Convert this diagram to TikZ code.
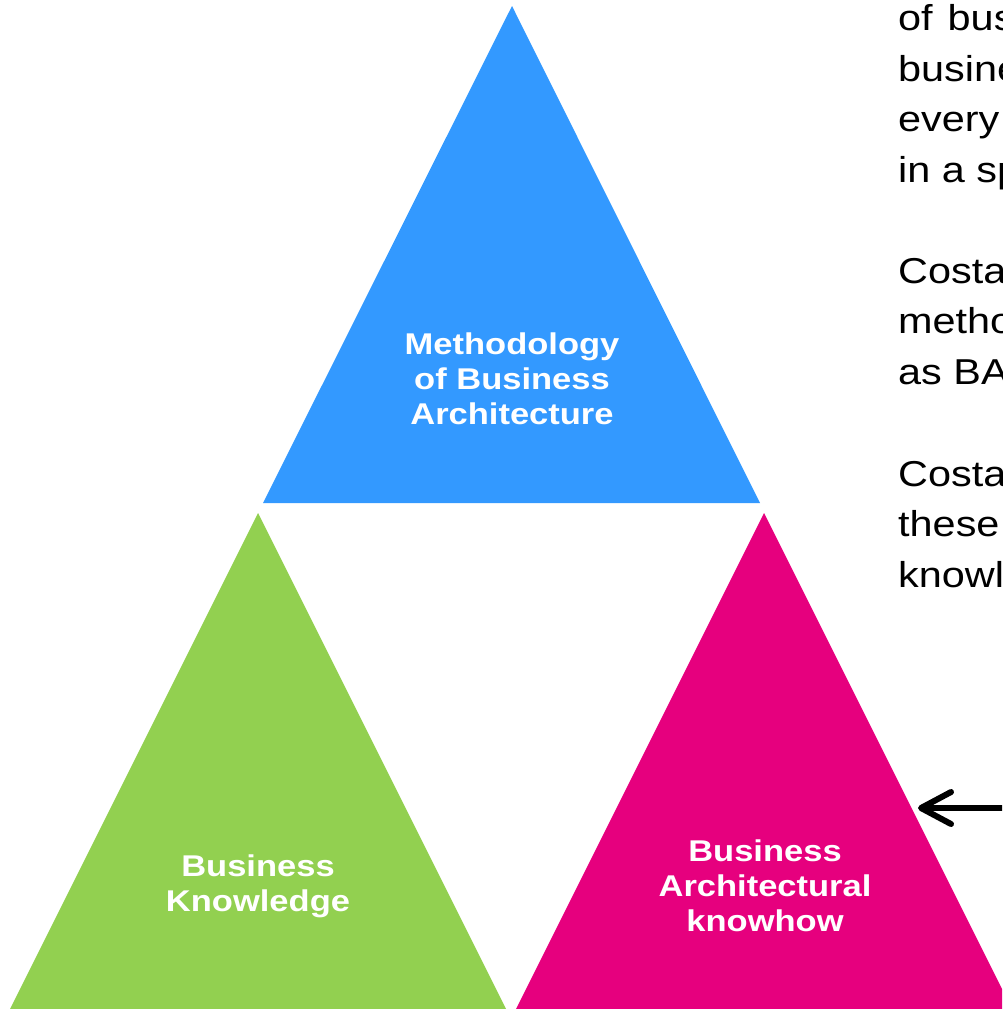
\documentclass[tikz,border=0pt]{standalone}
\usepackage{fontspec}
\setmainfont{Liberation Sans}
\newfontfamily\widefont[FakeStretch=1.15]{Liberation Sans}
\usetikzlibrary{arrows.meta}
\definecolor{triblue}{HTML}{3399FF}
\definecolor{trigreen}{HTML}{92D050}
\definecolor{tripink}{HTML}{E6007E}
\tikzset{
  trilabel/.style={text=white, font=\widefont\bfseries\fontsize{30}{35}\selectfont, align=center, inner sep=0pt},
  sidetext/.style={text=black, font=\widefont\fontsize{36}{50}\selectfont, anchor=base west, inner sep=0pt},
  pointer/.style={line width=6pt, -{Straight Barb[length=30pt,width=32pt,round]}}
}
\begin{document}
\begin{tikzpicture}[x=1pt,y=-1pt]
\useasboundingbox (0,0) rectangle (1002,1009);
\clip (0,0) rectangle (1002,1009);
% triangles
\fill[triblue] (512,6) -- (263,503) -- (760,503) -- cycle;
\fill[trigreen] (258,513) -- (10,1009) -- (506,1009) -- cycle;
\fill[tripink] (764,513) -- (516,1009) -- (1012,1009) -- cycle;
% labels
\node[trilabel] (meth) at (512,379) {Methodology\\of Business\\Architecture};
\node[trilabel] (know) at (258,886) {Business\\Knowledge};
\node[trilabel] (arch) at (765,886) {Business\\Architectural\\knowhow};
% side text
\node[sidetext] (l1) at (898,30) {of\hspace{15pt}business};
\node[sidetext] (l2) at (898,81) {business};
\node[sidetext] (l3) at (898,131) {every};
\node[sidetext] (l4) at (898,182) {in a specific};
\node[sidetext] (l5) at (898,283) {Costa};
\node[sidetext] (l6) at (898,333) {methodology};
\node[sidetext] (l7) at (898,384) {as BA};
\node[sidetext] (l8) at (898,486) {Costa};
\node[sidetext] (l9) at (898,536) {these};
\node[sidetext] (l10) at (898,587) {knowledge};
% arrow
\coordinate (astart) at (1010,808);
\coordinate (atip) at (918,808);
\draw[pointer] (astart) -- (atip);
\end{tikzpicture}
\end{document}
